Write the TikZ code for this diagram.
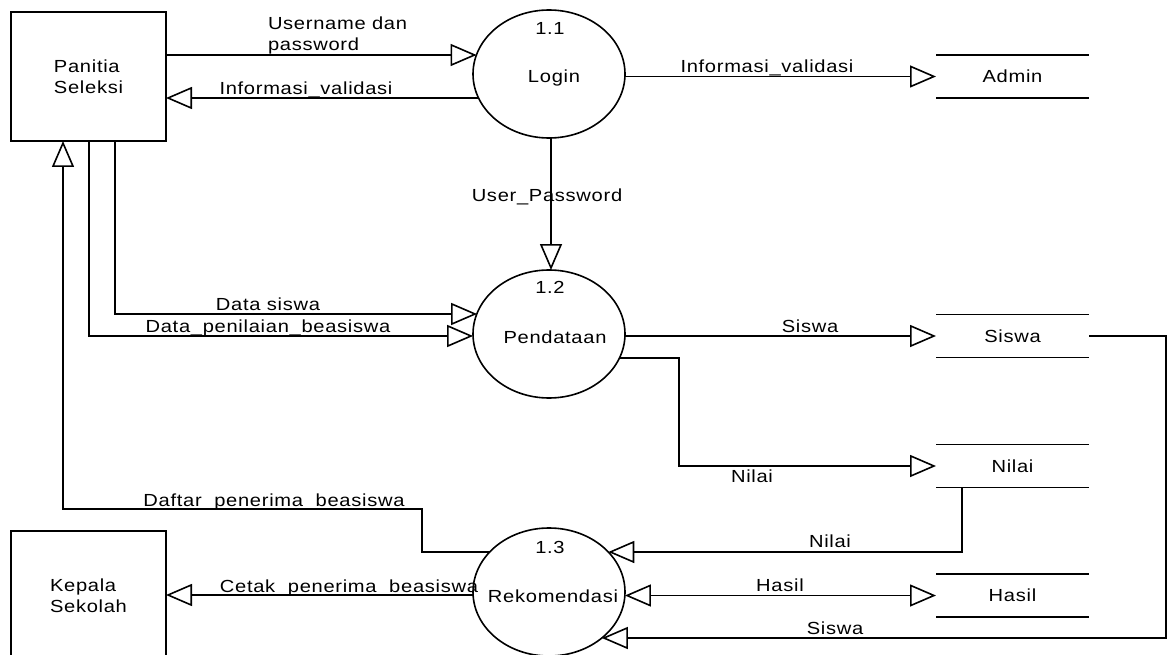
\documentclass[tikz,border=0pt]{standalone}
\usepackage{fontspec}
\setmainfont{Liberation Sans}[FakeStretch=1.15,LetterSpace=4]
\usetikzlibrary{arrows.meta,shapes.geometric}
\begin{document}
\begin{tikzpicture}[x=1pt,y=-1pt,
  every node/.style={font=\fontsize{17.5}{21}\selectfont, inner sep=0pt, outer sep=0pt},
  entity/.style={draw, line width=1.6pt, rectangle, minimum width=155pt, minimum height=129pt, align=left},
  proc/.style={draw, line width=1.6pt, ellipse, minimum width=152pt, minimum height=128pt},
  store/.style={minimum width=153pt, minimum height=43pt},
  lbl/.style={anchor=base},
  flow/.style={line width=1.6pt, -{Triangle[open,length=26pt,width=22pt]}},
  biflow/.style={line width=1.6pt, {Triangle[open,length=26pt,width=22pt]}-{Triangle[open,length=26pt,width=22pt]}},
  storeline/.style={line width=1.6pt}
]
\useasboundingbox (0,0) rectangle (1167,655);
\clip (0,0) rectangle (1167,655);
\fill[white] (0,0) rectangle (1167,655);

% external entities
\node[entity] (panitia) at (88.5,76.5) {Panitia\\Seleksi};
\node[entity] (kepala) at (88.5,595.5) {Kepala\\Sekolah};

% processes
\node[proc] (login) at (549,74) {};
\node[lbl] (loginid) at (550,35) {1.1};
\node[lbl] (logintxt) at (554,83) {Login};
\node[proc] (pend) at (549,334) {};
\node[lbl] (pendid) at (550,293) {1.2};
\node[lbl] (pendtxt) at (555,343) {Pendataan};
\node[proc] (rek) at (549,592) {};
\node[lbl] (rekid) at (550,553) {1.3};
\node[lbl] (rektxt) at (553,602) {Rekomendasi};

% data stores
\node[store] (admin) at (1012.5,76.5) {Admin};
\node[store] (siswa) at (1012.5,336) {Siswa};
\node[store] (nilai) at (1012.5,466) {Nilai};
\node[store] (hasil) at (1012.5,595.5) {Hasil};
\foreach \s in {admin,siswa,nilai,hasil}{
  \draw[storeline] (\s.north west) -- (\s.north east) (\s.south west) -- (\s.south east);
}

% flows
\draw[flow] (panitia.east |- 0,55) -- (login.165 |- 0,55);
\draw[flow] (login.199 |- 0,98) -- (panitia.east |- 0,98);
\draw[flow] (login.-2 |- 0,76.5) -- (admin.west);
\draw[flow] (login.south -| 551,0) -- (pend.north -| 551,0);
\draw[flow] (panitia.south -| 115,0) |- (pend.164 |- 0,314);
\draw[flow] (panitia.south -| 89,0) |- (pend.182 |- 0,336);
\draw[flow] (pend.-2 |- 0,336) -- (siswa.west);
\draw[flow] (pend.-19 |- 0,358) -| (679,466) -- (nilai.west);
\draw[flow] (nilai.south -| 962,0) |- (rek.34 |- 0,552);
\draw[biflow] (rek.-2 |- 0,595.5) -- (hasil.west);
\draw[flow] (siswa.east) -| (1166,638) -- (rek.-41 |- 0,638);
\draw[flow] (rek.146 |- 0,552) -| (422,509) -| (panitia.south -| 63,0);
\draw[flow] (rek.182 |- 0,595) -- (kepala.east |- 0,595);

% labels
\node[anchor=south west, align=left] (lup) at (268,54) {Username dan\\password};
\node[lbl] (liv1) at (306,95) {Informasi\_validasi};
\node[lbl] (liv2) at (767,73) {Informasi\_validasi};
\node[lbl] (lup2) at (547,202) {User\_Password};
\node[lbl] (lds) at (268,310) {Data siswa};
\node[lbl] (ldp) at (268,332) {Data\_penilaian\_beasiswa};
\node[lbl] (lsw1) at (810,332) {Siswa};
\node[lbl] (lnl1) at (752,482) {Nilai};
\node[lbl] (ldf) at (274,506) {Daftar\_penerima\_beasiswa};
\node[lbl] (lnl2) at (830,547) {Nilai};
\node[lbl] (lct) at (349,592) {Cetak\_penerima\_beasiswa};
\node[lbl] (lhs) at (780,591) {Hasil};
\node[lbl] (lsw2) at (835,634) {Siswa};
\end{tikzpicture}
\end{document}
